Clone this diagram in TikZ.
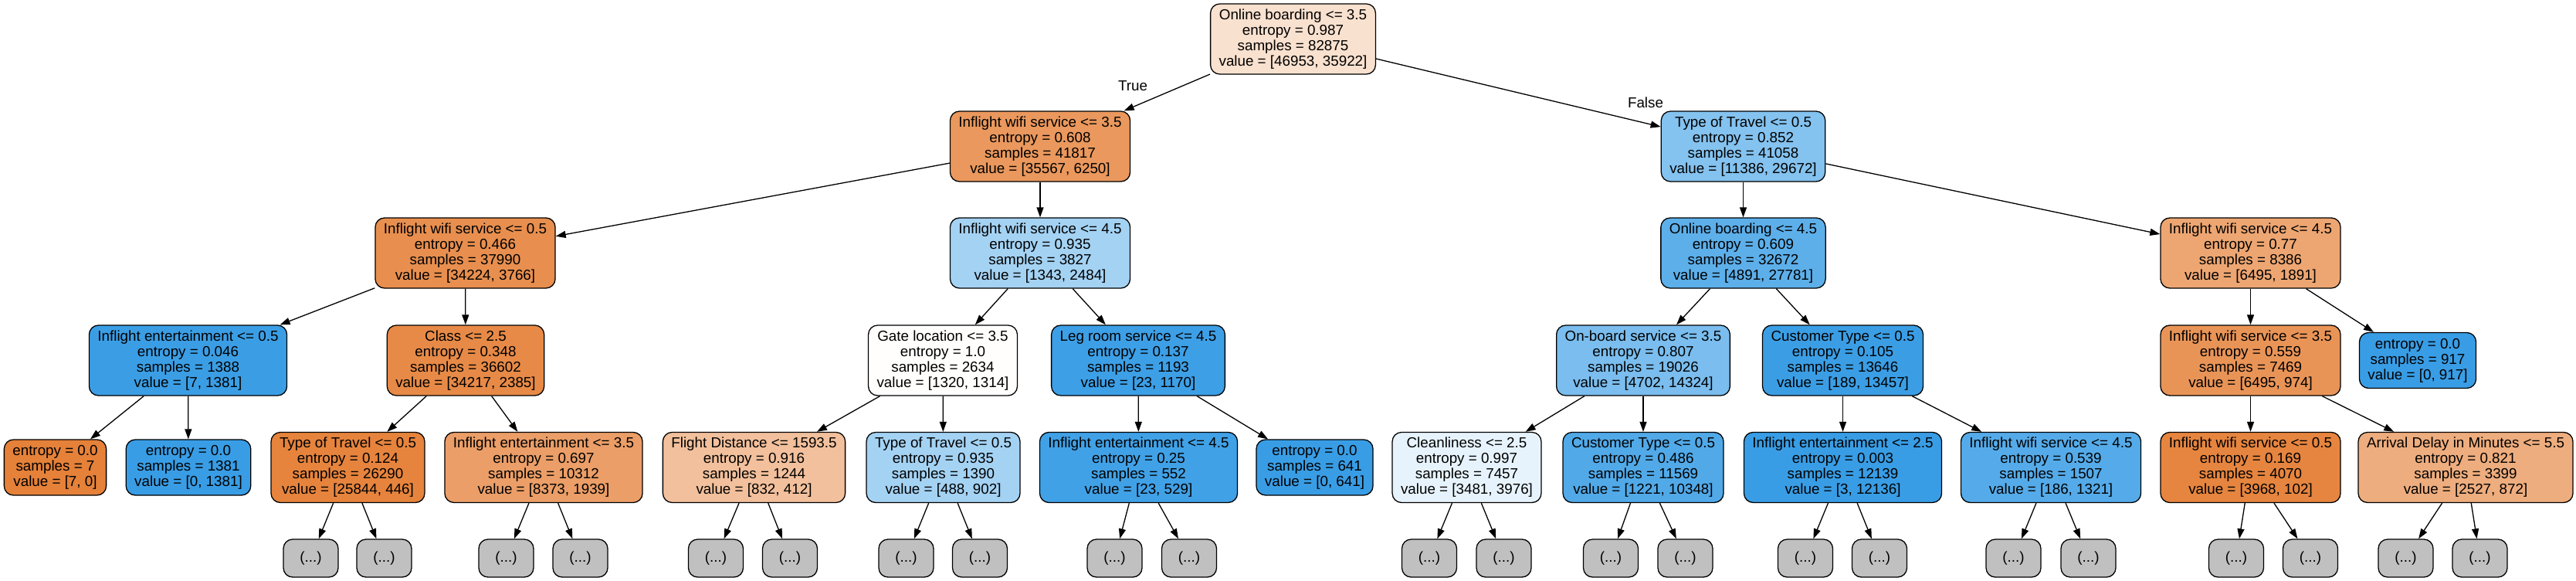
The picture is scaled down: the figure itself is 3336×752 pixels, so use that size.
\documentclass[tikz,border=0pt]{standalone}
\usepackage{fontspec}
\setmainfont{Liberation Sans}
\usetikzlibrary{arrows.meta}
\definecolor{clsA}{RGB}{229,129,57}
\definecolor{clsB}{RGB}{57,157,229}
\definecolor{elidedgray}{RGB}{192,192,192}

\begin{document}
\begin{tikzpicture}[x=1pt, y=-1pt, >={Triangle[length=13pt,width=9pt]},
    treenode/.style={draw, line width=1.3pt, rounded corners=12pt, align=center,
        font=\fontsize{18.8}{20}\selectfont, inner xsep=11pt, inner ysep=2pt},
    splitnode/.style={treenode, minimum height=91pt},
    leafnode/.style={treenode, minimum height=72pt},
    elided/.style={treenode, fill=elidedgray, minimum width=71pt, minimum height=49pt, inner xsep=2pt},
    branch/.style={->, line width=1.3pt}]
    \useasboundingbox (0,0) rectangle (3336,752);

    % Root and first split
    \node[splitnode, fill=clsA!24!white] (n0) at (1674.5,50.5) {Online boarding <= 3.5\\entropy = 0.987\\samples = 82875\\value = [46953, 35922]};
    \node[splitnode, fill=clsA!82!white] (n1) at (1347,189.5) {Inflight wifi service <= 3.5\\entropy = 0.608\\samples = 41817\\value = [35567, 6250]};
    \node[splitnode, fill=clsB!62!white] (n2) at (2257.5,189.5) {Type of Travel <= 0.5\\entropy = 0.852\\samples = 41058\\value = [11386, 29672]};

    % Depth 2
    \node[splitnode, fill=clsA!89!white] (n3) at (602.5,327.5) {Inflight wifi service <= 0.5\\entropy = 0.466\\samples = 37990\\value = [34224, 3766]};
    \node[splitnode, fill=clsB!46!white] (n4) at (1347,327.5) {Inflight wifi service <= 4.5\\entropy = 0.935\\samples = 3827\\value = [1343, 2484]};
    \node[splitnode, fill=clsB!82!white] (n5) at (2257.5,327.5) {Online boarding <= 4.5\\entropy = 0.609\\samples = 32672\\value = [4891, 27781]};
    \node[splitnode, fill=clsA!71!white] (n6) at (2914.5,327.5) {Inflight wifi service <= 4.5\\entropy = 0.77\\samples = 8386\\value = [6495, 1891]};

    % Depth 3
    \node[splitnode, fill=clsB!99!white] (n7) at (243.5,466.5) {Inflight entertainment <= 0.5\\entropy = 0.046\\samples = 1388\\value = [7, 1381]};
    \node[splitnode, fill=clsA!93!white] (n8) at (603,466.5) {Class <= 2.5\\entropy = 0.348\\samples = 36602\\value = [34217, 2385]};
    \node[splitnode, fill=clsA!1!white] (n9) at (1221,466.5) {Gate location <= 3.5\\entropy = 1.0\\samples = 2634\\value = [1320, 1314]};
    \node[splitnode, fill=clsB!98!white] (n10) at (1474,466.5) {Leg room service <= 4.5\\entropy = 0.137\\samples = 1193\\value = [23, 1170]};
    \node[splitnode, fill=clsB!67!white] (n11) at (2128,466.5) {On-board service <= 3.5\\entropy = 0.807\\samples = 19026\\value = [4702, 14324]};
    \node[splitnode, fill=clsB!99!white] (n12) at (2386.5,466.5) {Customer Type <= 0.5\\entropy = 0.105\\samples = 13646\\value = [189, 13457]};
    \node[splitnode, fill=clsA!85!white] (n13) at (2914.5,466.5) {Inflight wifi service <= 3.5\\entropy = 0.559\\samples = 7469\\value = [6495, 974]};
    \node[leafnode, fill=clsB] (n14) at (3131,466.5) {entropy = 0.0\\samples = 917\\value = [0, 917]};

    % Depth 4
    \node[leafnode, fill=clsA] (n15) at (71.5,605) {entropy = 0.0\\samples = 7\\value = [7, 0]};
    \node[leafnode, fill=clsB] (n16) at (244,605) {entropy = 0.0\\samples = 1381\\value = [0, 1381]};
    \node[splitnode, fill=clsA!98!white] (n17) at (450.5,605) {Type of Travel <= 0.5\\entropy = 0.124\\samples = 26290\\value = [25844, 446]};
    \node[splitnode, fill=clsA!77!white] (n18) at (704,605) {Inflight entertainment <= 3.5\\entropy = 0.697\\samples = 10312\\value = [8373, 1939]};
    \node[splitnode, fill=clsA!50!white] (n19) at (976.5,605) {Flight Distance <= 1593.5\\entropy = 0.916\\samples = 1244\\value = [832, 412]};
    \node[splitnode, fill=clsB!46!white] (n20) at (1221.5,605) {Type of Travel <= 0.5\\entropy = 0.935\\samples = 1390\\value = [488, 902]};
    \node[splitnode, fill=clsB!96!white] (n21) at (1474.5,605) {Inflight entertainment <= 4.5\\entropy = 0.25\\samples = 552\\value = [23, 529]};
    \node[leafnode, fill=clsB] (n22) at (1702.5,605) {entropy = 0.0\\samples = 641\\value = [0, 641]};
    \node[splitnode, fill=clsB!12!white] (n23) at (1899.5,605) {Cleanliness <= 2.5\\entropy = 0.997\\samples = 7457\\value = [3481, 3976]};
    \node[splitnode, fill=clsB!88!white] (n24) at (2128,605) {Customer Type <= 0.5\\entropy = 0.486\\samples = 11569\\value = [1221, 10348]};
    \node[splitnode, fill=clsB] (n25) at (2386.5,605) {Inflight entertainment <= 2.5\\entropy = 0.003\\samples = 12139\\value = [3, 12136]};
    \node[splitnode, fill=clsB!86!white] (n26) at (2656,605) {Inflight wifi service <= 4.5\\entropy = 0.539\\samples = 1507\\value = [186, 1321]};
    \node[splitnode, fill=clsA!97!white] (n27) at (2914.5,605) {Inflight wifi service <= 0.5\\entropy = 0.169\\samples = 4070\\value = [3968, 102]};
    \node[splitnode, fill=clsA!65!white] (n28) at (3193,605) {Arrival Delay in Minutes <= 5.5\\entropy = 0.821\\samples = 3399\\value = [2527, 872]};

    % Branches
    \foreach \p/\c in {n0/n1, n0/n2, n1/n3, n1/n4, n2/n5, n2/n6, n3/n7, n3/n8, n4/n9, n4/n10,
        n5/n11, n5/n12, n6/n13, n6/n14, n7/n15, n7/n16, n8/n17, n8/n18, n9/n19, n9/n20,
        n10/n21, n10/n22, n11/n23, n11/n24, n12/n25, n12/n26, n13/n27, n13/n28} {
        \draw[branch] (\p) -- (\c);
    }
    \node[font=\fontsize{18.8}{20}\selectfont] (truelabel) at (1467,111) {True};
    \node[font=\fontsize{18.8}{20}\selectfont] (falselabel) at (2131,133) {False};

    % Truncated subtrees
    \foreach \p/\xa/\xb in {n17/402.5/497.5, n18/655.5/751.5, n19/927/1023, n20/1173.5/1269,
        n21/1443.5/1540, n23/1851/1947.5, n24/2086/2182.5, n25/2338/2434,
        n26/2607.5/2704.5, n27/2896/2992, n28/3115.5/3211.5} {
        \node[elided] (\p a) at (\xa,722.5) {(...)};
        \node[elided] (\p b) at (\xb,722.5) {(...)};
        \draw[branch] (\p) -- (\p a);
        \draw[branch] (\p) -- (\p b);
    }
\end{tikzpicture}
\end{document}
